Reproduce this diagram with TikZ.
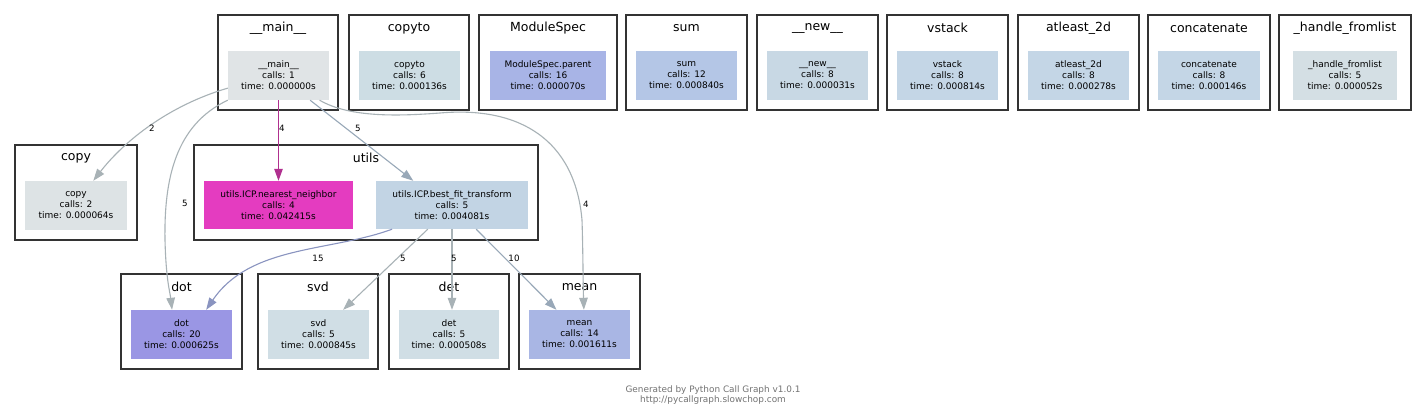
\documentclass[tikz,border=0pt]{standalone}
\usepackage{fontspec}
\setmainfont{DejaVu Sans}
\usetikzlibrary{arrows.meta,calc}
\definecolor{clborder}{HTML}{333333}
\definecolor{cmain}{HTML}{E0E4E6}
\definecolor{ccopyto}{HTML}{CDDDE4}
\definecolor{cmodspec}{HTML}{A8B4E6}
\definecolor{csum}{HTML}{B4C6E6}
\definecolor{cnew}{HTML}{C8D8E4}
\definecolor{cvstack}{HTML}{C4D6E6}
\definecolor{chandle}{HTML}{D4DFE4}
\definecolor{ccopy}{HTML}{DDE3E5}
\definecolor{cnn}{HTML}{E43CC0}
\definecolor{cbf}{HTML}{C2D4E4}
\definecolor{cdot}{HTML}{9A96E4}
\definecolor{csvd}{HTML}{D0DEE5}
\definecolor{cmean}{HTML}{A9B6E4}
\definecolor{egray}{HTML}{A8B2B6}
\definecolor{eblue}{HTML}{8A94C0}
\definecolor{eslate}{HTML}{98A8B8}
\definecolor{emag}{HTML}{B0308F}
\tikzset{
  fnbox/.style={rectangle, inner sep=0pt, align=center, font=\fontsize{9}{11}\selectfont, text=black},
  clframe/.style={rectangle, draw=clborder, line width=2.6pt, fill=white, inner sep=0pt},
  cltitle/.style={font=\fontsize{12.5}{14}\selectfont, inner sep=0pt, text=black},
  edge/.style={line width=1.1pt, -{Triangle[length=12pt,width=8.5pt]}},
  elabel/.style={font=\fontsize{8.7}{10}\selectfont, inner sep=0pt, text=black},
  foot/.style={font=\fontsize{8.9}{10}\selectfont, inner sep=0pt, text=black!55}
}
\newcommand\clusterbox[6]{%
  \node[clframe, minimum width={(#4-#2)*1pt}, minimum height={(#5-#3)*1pt}] (#1) at ({(#2+#4)/2},{(#3+#5)/2}) {};
  \node[cltitle] (#1-t) at ({(#2+#4)/2},{#3+13}) {#6};}
\newcommand\fnnode[7]{%
  \node[fnbox, fill=#6, minimum width={(#4-#2)*1pt}, minimum height={(#5-#3)*1pt}] (#1) at ({(#2+#4)/2},{(#3+#5)/2}) {#7};}
\begin{document}
\begin{tikzpicture}[x=1pt,y=-1pt]
\useasboundingbox[fill=white] (0,0) rectangle (1427,417);
% top row clusters
\clusterbox{cmainc}{218}{15}{338}{110}{\_\_main\_\_}
\fnnode{main}{228}{51}{329}{100}{cmain}{\_\_main\_\_\\calls: 1\\time: 0.000000s}
\clusterbox{ccopytoc}{349}{15}{469}{110}{copyto}
\fnnode{copyto}{359}{51}{460}{100}{ccopyto}{copyto\\calls: 6\\time: 0.000136s}
\clusterbox{cmodc}{479}{15}{617}{110}{ModuleSpec}
\fnnode{modspec}{490}{51}{606}{100}{cmodspec}{ModuleSpec.parent\\calls: 16\\time: 0.000070s}
\clusterbox{csumc}{626}{15}{747}{110}{sum}
\fnnode{sum}{636}{51}{737}{100}{csum}{sum\\calls: 12\\time: 0.000840s}
\clusterbox{cnewc}{757}{15}{878}{110}{\_\_new\_\_}
\fnnode{new}{767}{51}{868}{100}{cnew}{\_\_new\_\_\\calls: 8\\time: 0.000031s}
\clusterbox{cvstackc}{887}{15}{1008}{110}{vstack}
\fnnode{vstack}{897}{51}{998}{100}{cvstack}{vstack\\calls: 8\\time: 0.000814s}
\clusterbox{catleastc}{1018}{15}{1139}{110}{atleast\_2d}
\fnnode{atleast}{1028}{51}{1129}{100}{cvstack}{atleast\_2d\\calls: 8\\time: 0.000278s}
\clusterbox{cconcatc}{1148}{15}{1270}{110}{concatenate}
\fnnode{concat}{1158}{51}{1260}{100}{cvstack}{concatenate\\calls: 8\\time: 0.000146s}
\clusterbox{chandlec}{1279}{15}{1411}{110}{\_handle\_fromlist}
\fnnode{handle}{1293}{51}{1397}{100}{chandle}{\_handle\_fromlist\\calls: 5\\time: 0.000052s}
% middle row
\clusterbox{ccopyc}{15}{145}{137}{240}{copy}
\fnnode{copy}{25}{181}{127}{230}{ccopy}{copy\\calls: 2\\time: 0.000064s}
\clusterbox{cutilsc}{194}{145}{538}{240}{utils}
\fnnode{nn}{204}{181}{353}{229}{cnn}{utils.ICP.nearest\_neighbor\\calls: 4\\time: 0.042415s}
\fnnode{bf}{376}{181}{528}{229}{cbf}{utils.ICP.best\_fit\_transform\\calls: 5\\time: 0.004081s}
% bottom row
\clusterbox{cdotc}{121}{274}{242}{369}{dot}
\fnnode{dot}{131}{310}{232}{359}{cdot}{dot\\calls: 20\\time: 0.000625s}
\clusterbox{csvdc}{258}{274}{378}{369}{svd}
\fnnode{svd}{268}{310}{369}{359}{csvd}{svd\\calls: 5\\time: 0.000845s}
\clusterbox{cdetc}{389}{274}{509}{369}{det}
\fnnode{det}{399}{310}{499}{359}{csvd}{det\\calls: 5\\time: 0.000508s}
\clusterbox{cmeanc}{519}{274}{640}{369}{mean}
\fnnode{mean}{529}{310}{630}{359}{cmean}{mean\\calls: 14\\time: 0.001611s}
% edges
\draw[edge, egray] (main.194) .. controls (170,105) and (125,140) .. (copy.55);
\draw[edge, egray] (main.south west) .. controls (175,125) and (164,180) .. (165,240) .. controls (166,280) and (170,292) .. (dot.111);
\draw[edge, emag] (main.south) -- (nn.north);
\draw[edge, eslate] (main.322) -- (bf.148);
\draw[edge, egray] (main.329) .. controls (350,118) and (400,116) .. (440,113) .. controls (520,106) and (575,140) .. (582,220) .. controls (583,250) and (583,280) .. (mean.80);
\draw[edge, eblue] (bf.202) .. controls (330,252) and (250,245) .. (dot.45);
\draw[edge, egray] (bf.225) -- (svd.45);
\draw[edge, egray] (bf.south) -- (bf.south |- det.north);
\draw[edge, eslate] (bf.315) -- (mean.133);
% edge labels
\node[elabel] (l1) at (152,128) {2};
\node[elabel] (l2) at (185,203) {5};
\node[elabel] (l3) at (282,128) {4};
\node[elabel] (l4) at (358,128) {5};
\node[elabel] (l5) at (586,204) {4};
\node[elabel] (l6) at (318,258) {15};
\node[elabel] (l7) at (403,258) {5};
\node[elabel] (l8) at (454,258) {5};
\node[elabel] (l9) at (514,258) {10};
% footer
\node[foot] (f1) at (713,390) {Generated by Python Call Graph v1.0.1};
\node[foot] (f2) at (713,400) {http://pycallgraph.slowchop.com};
\end{tikzpicture}
\end{document}
